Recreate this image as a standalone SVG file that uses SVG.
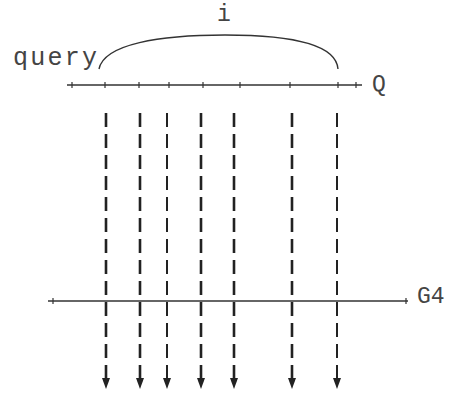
<svg xmlns="http://www.w3.org/2000/svg" width="450" height="394" viewBox="0 0 450 394">
<style>
.lbl{font-family:"Liberation Mono","DejaVu Sans Mono",monospace;fill:#444;}
.axis{stroke:#333;stroke-width:1.4;fill:none;}
.tick{stroke:#333;stroke-width:1.2;}
.arr{stroke:#222;stroke-width:2.6;stroke-dasharray:14 7;fill:none;}
.head{fill:#222;}
</style>
<rect width="450" height="394" fill="#fff"/>
<g id="Q">
<line class="axis" x1="67" y1="85" x2="362" y2="85"/>
<g class="tick">
<line x1="72" y1="82" x2="72" y2="88"/>
<line x1="105" y1="82" x2="105" y2="88"/>
<line x1="139" y1="82" x2="139" y2="88"/>
<line x1="169" y1="82" x2="169" y2="88"/>
<line x1="203" y1="82" x2="203" y2="88"/>
<line x1="240" y1="82" x2="240" y2="88"/>
<line x1="290" y1="82" x2="290" y2="88"/>
<line x1="338" y1="82" x2="338" y2="88"/>
<line x1="356" y1="82" x2="356" y2="88"/>
</g>
<text class="lbl" x="372" y="91" font-size="23">Q</text>
</g>
<g id="query">
<text class="lbl" x="13" y="65" font-size="25" textLength="84" lengthAdjust="spacing">query</text>
</g>
<g id="i">
<path class="axis" d="M99,69 C104,44 160,35 225,35 C290,35 336,44 338,69"/>
<text class="lbl" x="224" y="21" font-size="23" text-anchor="middle">i</text>
</g>
<g id="G4">
<line class="axis" x1="48" y1="301" x2="408" y2="301"/>
<line class="tick" x1="53" y1="298" x2="53" y2="304"/>
<line class="tick" x1="406" y1="298" x2="406" y2="304"/>
<text class="lbl" x="417" y="303" font-size="23">G4</text>
</g>
<g id="connectors">
<line class="arr" x1="106" y1="113" x2="106" y2="379"/>
<line class="arr" x1="140" y1="113" x2="140" y2="379"/>
<line class="arr" x1="167" y1="113" x2="167" y2="379" style="stroke-width:2"/>
<line class="arr" x1="201" y1="113" x2="201" y2="379"/>
<line class="arr" x1="234" y1="113" x2="234" y2="379"/>
<line class="arr" x1="292" y1="113" x2="292" y2="379"/>
<line class="arr" x1="337" y1="113" x2="337" y2="379" style="stroke-width:2"/>
<polygon class="head" points="102,378 110,378 106,389"/>
<polygon class="head" points="136,378 144,378 140,389"/>
<polygon class="head" points="163,378 171,378 167,389"/>
<polygon class="head" points="197,378 205,378 201,389"/>
<polygon class="head" points="230,378 238,378 234,389"/>
<polygon class="head" points="288,378 296,378 292,389"/>
<polygon class="head" points="333,378 341,378 337,389"/>
</g>
</svg>
